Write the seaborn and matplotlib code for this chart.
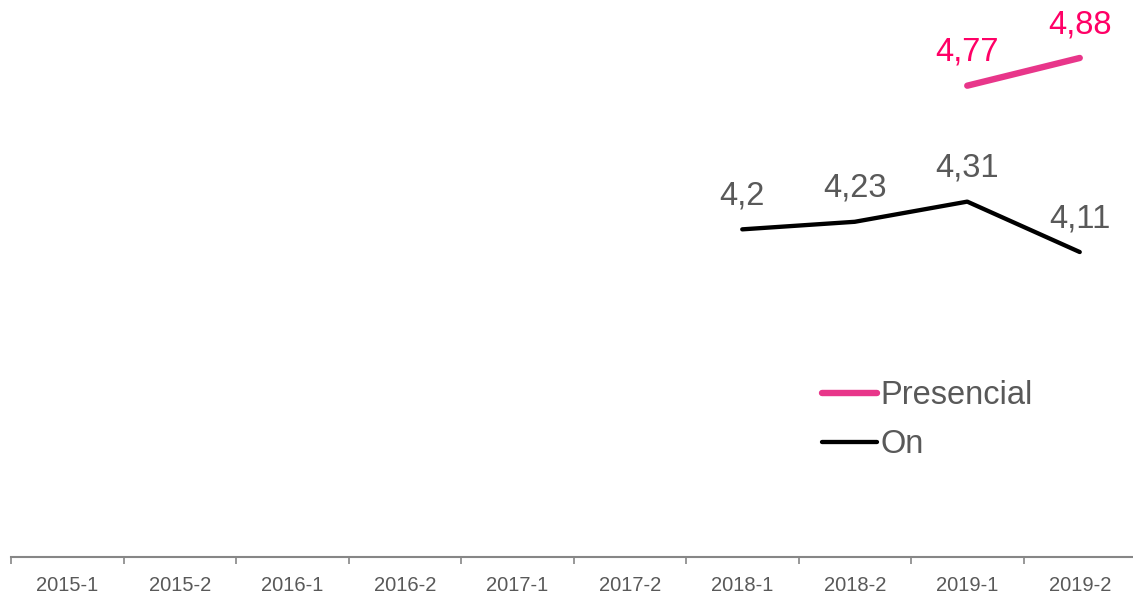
import numpy as np
import pandas as pd
import matplotlib
matplotlib.use("Agg")
import matplotlib.pyplot as plt
import seaborn as sns

# Data
PERIODS = ["2015-1", "2015-2", "2016-1", "2016-2", "2017-1",
           "2017-2", "2018-1", "2018-2", "2019-1", "2019-2"]
PRESENCIAL = [np.nan, np.nan, np.nan, np.nan, np.nan,
              np.nan, np.nan, np.nan, 4.77, 4.88]
ON = [np.nan, np.nan, np.nan, np.nan, np.nan,
      np.nan, 4.20, 4.23, 4.31, 4.11]

PINK_LINE = "#E8368A"
PINK_TEXT = "#FF0066"
BLACK = "#000000"
GRAY_TEXT = "#595959"
AXIS_GRAY = "#868686"

sns.set_theme(style="white")
plt.rcParams["font.family"] = ["Liberation Sans", "DejaVu Sans"]

df = pd.DataFrame({
    "pos": np.arange(len(PERIODS)),
    "period": PERIODS,
    "Presencial": PRESENCIAL,
    "On": ON,
})

fig = plt.figure(figsize=(11.33, 5.94), dpi=100)
ax = fig.add_axes([11 / 1133, 37 / 594, 1125 / 1133, 557 / 594])

series = [("Presencial", PINK_LINE, PINK_TEXT, 4.6),
          ("On", BLACK, GRAY_TEXT, 3.1)]

for name, line_color, text_color, lw in series:
    sub = df.dropna(subset=[name])
    sns.lineplot(data=sub, x="pos", y=name, ax=ax, color=line_color,
                 linewidth=lw, solid_capstyle="round", label=name)
    for x, y in zip(sub["pos"], sub[name]):
        ax.annotate(f"{y:g}".replace(".", ","), (x, y), xytext=(0, 24),
                    textcoords="offset points", ha="center", va="center",
                    fontsize=23.5, color=text_color)

ax.set_xlim(-0.5, len(PERIODS) - 0.5)
ax.set_ylim(2.9, 5.11)

# boundary ticks between categories, labels centred on categories
ax.set_xticks(np.arange(len(PERIODS)) - 0.5)
ax.set_xticklabels([])
ax.set_xticks(np.arange(len(PERIODS)), minor=True)
ax.set_xticklabels(PERIODS, minor=True)
ax.tick_params(axis="x", which="major", length=5, width=1.2,
               color=AXIS_GRAY, direction="out", bottom=True)
ax.tick_params(axis="x", which="minor", length=0, pad=14,
               labelsize=14.5, labelcolor=GRAY_TEXT)
ax.set_yticks([])
ax.set_xlabel("")
ax.set_ylabel("")

for side in ["top", "right", "left"]:
    ax.spines[side].set_visible(False)
ax.spines["bottom"].set_color(AXIS_GRAY)
ax.spines["bottom"].set_linewidth(1.5)

leg = ax.legend(loc="center left", bbox_to_anchor=(822 / 1133, 1 - 420 / 594),
                bbox_transform=fig.transFigure, frameon=False, fontsize=23.5,
                handlelength=1.7, handletextpad=0.1, labelspacing=0.55,
                borderpad=0, borderaxespad=0)
for text in leg.get_texts():
    text.set_color(GRAY_TEXT)

fig.savefig("out.png", dpi=100)
plt.close(fig)
